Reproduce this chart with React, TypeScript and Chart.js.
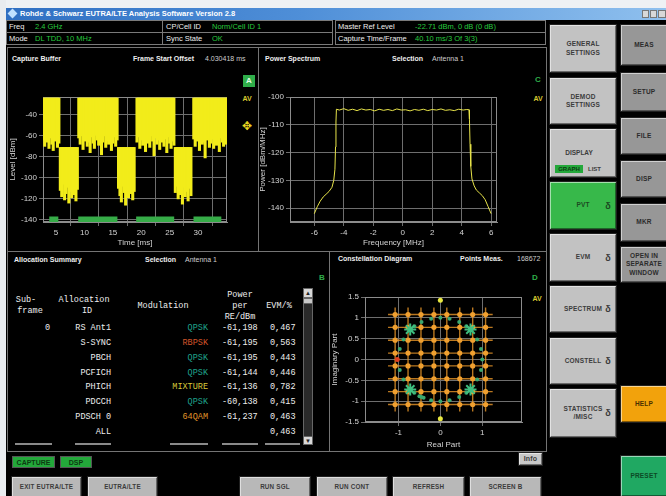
import React, { useEffect, useRef } from 'react';
import { Chart, registerables } from 'chart.js';

Chart.register(...registerables);

const UI = '"Liberation Sans", Arial, sans-serif';
const MONO = '"Liberation Mono", "DejaVu Sans Mono", monospace';

// ---------------- Capture buffer data ----------------
const captureStep = 0.25;
const captureHighStarts = [2.75, 9.0, 19.25, 29.25];
const captureHighTop = -24;
const captureHighFloors = [
  [-64, -70, -58, -66, -72, -62, -68, -74, -65, -60, -71, -67],
  [-62, -68, -60, -73, -65, -58, -70, -66, -76, -61, -67, -72, -59, -64, -69, -63, -78, -66, -60, -71, -65, -68, -62, -74, -67, -61, -70, -64],
  [-66, -61, -72, -64, -69, -58, -75, -63, -67, -71, -60, -65, -79, -62, -68, -64, -73, -59, -66, -70, -63, -76, -61, -67, -72, -65, -69],
  [-63, -70, -65, -59, -74, -62, -68, -66, -81, -64, -60, -71, -67, -63, -72, -58, -69, -65, -75, -62, -66, -70, -64, -68, -61],
];
const captureLowStarts = [5.75, 16.0, 26.0];
const captureLowTop = -71;
const captureLowFloors = [
  [-112, -118, -106, -121, -115, -109, -124, -113, -119, -108, -116, -122, -111],
  [-110, -117, -123, -108, -114, -126, -112, -119, -107, -115, -121, -113],
  [-114, -108, -120, -116, -111, -125, -109, -118, -113, -122, -110, -117],
];
const captureMarkerSpans = [[3.8, 5.4], [8.9, 15.8], [19.1, 25.8], [29.2, 34.1]];
const captureMarkerLevel = -140;

// ---------------- Power spectrum data ----------------
const spectrumFreq = [-6.0, -5.8, -5.6, -5.4, -5.2, -5.0, -4.8, -4.68, -4.6, -4.56, -4.53, -4.5,
  -4.3, -4.0, -3.7, -3.4, -3.1, -2.8, -2.5, -2.2, -1.9, -1.6, -1.3, -1.0, -0.7, -0.4, -0.1,
  0.2, 0.5, 0.8, 1.1, 1.4, 1.7, 2.0, 2.3, 2.6, 2.9, 3.2, 3.5, 3.8, 4.1, 4.35, 4.5,
  4.53, 4.57, 4.62, 4.7, 4.85, 5.0, 5.2, 5.4, 5.6, 5.8, 6.0];
const spectrumPower = [-142, -139.5, -137.5, -136, -135, -134, -132.5, -130, -126, -118, -109, -104.4,
  -104.7, -104.2, -104.8, -104.4, -104.9, -104.3, -104.7, -104.5, -105.0, -104.4, -104.8, -104.5, -104.9, -104.3, -104.7,
  -104.6, -105.0, -104.5, -104.8, -104.4, -104.9, -104.5, -104.7, -104.3, -104.8, -104.6, -104.9, -104.4, -104.7, -104.5, -104.6,
  -108, -117, -125, -129.5, -132, -133.5, -134.5, -135.5, -137, -139.5, -142];

// ---------------- Constellation data ----------------
const qamLevels = [-1.08, -0.772, -0.463, -0.154, 0.154, 0.463, 0.772, 1.08];
const qamLineExtent = 1.25;
const qpskPoints = [[0.72, 0.72], [-0.72, 0.72], [0.72, -0.72], [-0.72, -0.72]];
const phichPoints = [[0, 1.0], [0.22, 0.98], [-0.22, 0.98], [0.45, 0.9], [-0.45, 0.9], [0.62, 0.8], [-0.62, 0.8],
  [0.88, 0.48], [-0.88, 0.48], [0.97, 0.25], [-0.97, 0.25], [1.0, 0], [0.97, -0.25], [-0.97, -0.25],
  [0.88, -0.48], [-0.88, -0.48], [0.62, -0.8], [-0.62, -0.8], [0.45, -0.9], [-0.45, -0.9], [0.22, -0.98],
  [-0.22, -0.98], [0, -1.0], [-0.5, -0.88], [-0.4, -0.92]];
const bpskPoints = [[-1.03, 0]];
const syncPoints = [[0, 1.42], [0, -1.42]];

// ---------------- Allocation summary ----------------
const allocSubframe = ['0', '', '', '', '', '', '', ''];
const allocIds = ['RS Ant1', 'S-SYNC', 'PBCH', 'PCFICH', 'PHICH', 'PDCCH', 'PDSCH 0', 'ALL'];
const allocMods = ['QPSK', 'RBPSK', 'QPSK', 'QPSK', 'MIXTURE', 'QPSK', '64QAM', ''];
const allocPower = ['-61,198', '-61,195', '-61,195', '-61,144', '-61,136', '-60,138', '-61,237', ''];
const allocEvm = ['0,467', '0,563', '0,443', '0,446', '0,782', '0,415', '0,463', '0,463'];
const modColors: Record<string, string> = { QPSK: '#1fa38c', RBPSK: '#d2542a', MIXTURE: '#d8c83a', '64QAM': '#e0962a' };

const TICK = '#d4d4d4';
const GRID = '#6e6e6e';
const tickFont = { size: 8, family: UI };

const framePlugin = {
  id: 'frame',
  beforeDatasetsDraw(chart: any) {
    const { ctx, chartArea: a } = chart;
    ctx.save();
    ctx.strokeStyle = '#8c8c8c';
    ctx.lineWidth = 1;
    ctx.strokeRect(Math.round(a.left) + 0.5, Math.round(a.top) + 0.5, Math.round(a.right - a.left) - 1, Math.round(a.bottom - a.top) - 1);
    ctx.restore();
  },
};

const plainLabel = (v: any) => String(Math.round(v * 100) / 100);

function axis(min: number, max: number, step: number, title: string, fit: (s: any) => void, extra: any = {}) {
  return {
    type: 'linear',
    min, max, offset: false,
    ticks: { stepSize: step, includeBounds: false, color: TICK, font: tickFont, maxRotation: 0, padding: 2, callback: plainLabel, ...(extra.ticks || {}) },
    grid: { color: GRID, tickLength: 4, tickColor: GRID },
    border: { color: '#8c8c8c' },
    title: { display: true, text: title, color: TICK, font: { size: 8, family: UI }, padding: { top: 0, bottom: 0 } },
    afterFit: fit,
  };
}

function baseOptions(padding: any, scales: any) {
  return {
    animation: false,
    responsive: false,
    devicePixelRatio: 1,
    layout: { padding },
    plugins: { legend: { display: false }, tooltip: { enabled: false } },
    scales,
  };
}

function captureConfig(): any {
  const bars: any[] = [];
  captureHighStarts.forEach((s, b) => captureHighFloors[b].forEach((f, i) => bars.push({ x: s + i * captureStep, y: [f, captureHighTop] })));
  captureLowStarts.forEach((s, b) => captureLowFloors[b].forEach((f, i) => bars.push({ x: s + i * captureStep, y: [f, captureLowTop] })));
  const marks: any[] = [];
  captureMarkerSpans.forEach(([a, b]) => {
    marks.push({ x: a, y: captureMarkerLevel }, { x: b, y: captureMarkerLevel }, { x: b + 0.01, y: null });
  });
  return {
    type: 'bar',
    data: {
      datasets: [
        { type: 'line', data: marks, borderColor: '#36ac48', borderWidth: 7, pointRadius: 0, spanGaps: false, borderCapStyle: 'butt', order: 1 },
        { type: 'bar', data: bars, backgroundColor: '#f2ec1a', borderWidth: 0, barThickness: 2.4, order: 2 },
      ],
    },
    options: baseOptions({ top: 9, right: 31, left: 0, bottom: 0 }, {
      x: axis(2.7, 35.1, 5, 'Time [ms]', (s: any) => { s.height = 26; }, { ticks: { callback: (v: any) => (v > 34 ? '' : String(v)) } }),
      y: axis(-142, -23, 20, 'Level [dBm]', (s: any) => { s.width = 35; }),
    }),
    plugins: [framePlugin],
  };
}

function spectrumConfig(): any {
  return {
    type: 'line',
    data: {
      datasets: [{ data: spectrumFreq.map((f, i) => ({ x: f, y: spectrumPower[i] })), borderColor: '#e8e44a', borderWidth: 1, pointRadius: 0, tension: 0 }],
    },
    options: baseOptions({ top: 9, right: 48, left: 0, bottom: 0 }, {
      x: axis(-7.65, 6.4, 2, 'Frequency [MHz]', (s: any) => { s.height = 26; }),
      y: axis(-145, -100, 10, 'Power [dBm/MHz]', (s: any) => { s.width = 32; }),
    }),
    plugins: [framePlugin],
  };
}

function constellationConfig(): any {
  const lines: any[] = [];
  qamLevels.forEach((l) => {
    lines.push({ x: -qamLineExtent, y: l }, { x: qamLineExtent, y: l }, { x: qamLineExtent, y: null });
    lines.push({ x: l, y: -qamLineExtent }, { x: l, y: qamLineExtent }, { x: l, y: null });
  });
  const qam: any[] = [];
  qamLevels.forEach((a) => qamLevels.forEach((b) => qam.push({ x: a, y: b })));
  const pts = (arr: number[][]) => arr.map(([x, y]) => ({ x, y }));
  return {
    type: 'scatter',
    data: {
      datasets: [
        { data: pts(syncPoints), backgroundColor: '#e8e840', borderWidth: 0, pointRadius: 2.5, order: 1 },
        { data: pts(bpskPoints), backgroundColor: '#e04020', borderWidth: 0, pointRadius: 2.5, order: 1 },
        { data: pts(qpskPoints), borderColor: '#3fbf80', backgroundColor: '#3fbf80', pointStyle: 'star', borderWidth: 2, pointRadius: 6, order: 2 },
        { data: pts(phichPoints), backgroundColor: '#3aa870', borderWidth: 0, pointRadius: 2, order: 3 },
        { data: qam, backgroundColor: '#f0a030', borderWidth: 0, pointRadius: 2.6, order: 4 },
        { data: lines, showLine: true, spanGaps: false, borderColor: 'rgba(232,150,40,0.8)', borderWidth: 1.4, pointRadius: 0, order: 5 },
      ],
    },
    options: baseOptions({ top: 12, right: 23, left: 0, bottom: 0 }, {
      x: axis(-1.8, 1.95, 1, 'Real Part', (s: any) => { s.height = 28; }),
      y: axis(-1.5, 1.5, 0.5, 'Imaginary Part', (s: any) => { s.width = 35; }),
    }),
    plugins: [framePlugin],
  };
}

function ChartBox({ x, y, w, h, make }: any) {
  const ref = useRef<HTMLCanvasElement>(null);
  useEffect(() => {
    const chart = new Chart(ref.current as HTMLCanvasElement, make());
    return () => chart.destroy();
  }, []);
  return <canvas ref={ref} width={w} height={h} style={{ position: 'absolute', left: x, top: y, width: w, height: h }} />;
}

function Box({ x, y, w, h, style, children }: any) {
  return <div style={{ position: 'absolute', left: x, top: y, width: w, height: h, boxSizing: 'border-box', ...style }}>{children}</div>;
}

function T({ x, y, size = 8, color = '#eeeeee', bold = false, align = 'left', font = UI, children, style }: any) {
  const tx = align === 'right' ? 'translateX(-100%)' : align === 'center' ? 'translateX(-50%)' : 'none';
  return (
    <div style={{ position: 'absolute', left: x, top: y - size / 2, fontSize: size, lineHeight: `${size}px`, color, fontWeight: bold ? 'bold' : 'normal', fontFamily: font, whiteSpace: 'nowrap', transform: tx, ...style }}>
      {children}
    </div>
  );
}

function Btn({ x, y, w, h, bg, lines, color = '#3c3c3c', size = 6.5, icon = false }: any) {
  return (
    <div style={{ position: 'absolute', left: x, top: y, width: w, height: h, boxSizing: 'border-box', background: bg,
      boxShadow: 'inset 1px 1px 0 rgba(255,255,255,0.55), inset -1px -1px 0 rgba(0,0,0,0.45)', border: '1px solid #202020',
      display: 'flex', flexDirection: 'column', alignItems: 'center', justifyContent: 'center', fontFamily: UI, fontWeight: 'bold',
      fontSize: size, color, lineHeight: 1.3, textAlign: 'center', letterSpacing: 0.2 }}>
      {lines.map((l: string, i: number) => <div key={i}>{l}</div>)}
      {icon && <div style={{ position: 'absolute', right: 5, top: h / 2 - 6, fontSize: 9, color }}>δ</div>}
    </div>
  );
}

export default function App() {
  const col1 = '#c2c2c2';
  const col2 = '#979797';
  const green = '#27c93f';
  const rowY = [328, 343.6, 358.3, 373, 387.7, 402, 416.8, 432];
  return (
    <div style={{ position: 'fixed', left: 0, top: 0, width: 666, height: 496, background: '#000', overflow: 'hidden', fontFamily: UI }}>
      {/* window chrome */}
      <Box x={0} y={0} w={666} h={8} style={{ background: '#eef1f4' }} />
      <Box x={0} y={0} w={6} h={496} style={{ background: '#e9ecef' }} />
      <Box x={6} y={8} w={660} h={12} style={{ background: 'linear-gradient(to right, #2f6fc2, #4f8fd8 45%, #8fc0ee)' }} />
      <Box x={9} y={10} w={7} h={7} style={{ background: '#bfe0ff', transform: 'rotate(45deg)' }} />
      <T x={20} y={14} size={7.5} bold color="#ffffff">Rohde &amp; Schwarz EUTRA/LTE Analysis Software Version 2.8</T>
      <Box x={642} y={10} w={7} h={8} style={{ background: '#d8d8d8', border: '1px solid #777' }} />
      <Box x={650} y={10} w={7} h={8} style={{ background: '#d8d8d8', border: '1px solid #777' }} />
      <Box x={658} y={10} w={8} h={8} style={{ background: '#d8d8d8', border: '1px solid #777' }} />

      {/* info rows */}
      {[[6, 157], [162, 171], [335, 211]].map(([x, w], i) => (
        <React.Fragment key={i}>
          <Box x={x} y={20} w={w} h={13} style={{ border: '1px solid #7a7a7a' }} />
          <Box x={x} y={32} w={w} h={13} style={{ border: '1px solid #7a7a7a' }} />
        </React.Fragment>
      ))}
      <T x={9} y={26.5} size={7.5}>Freq</T>
      <T x={35} y={26.5} size={7.5} color={green}>2.4 GHz</T>
      <T x={9} y={38.5} size={7.5}>Mode</T>
      <T x={35} y={38.5} size={7.5} color={green}>DL TDD, 10 MHz</T>
      <T x={166} y={26.5} size={7.5}>CP/Cell ID</T>
      <T x={212} y={26.5} size={7.5} color={green}>Norm/Cell ID 1</T>
      <T x={166} y={38.5} size={7.5}>Sync State</T>
      <T x={212} y={38.5} size={7.5} color={green}>OK</T>
      <T x={338} y={26.5} size={7.5}>Master Ref Level</T>
      <T x={415} y={26.5} size={7.5} color={green}>-22.71 dBm, 0 dB (0 dB)</T>
      <T x={338} y={38.5} size={7.5}>Capture Time/Frame</T>
      <T x={415} y={38.5} size={7.5} color={green}>40.10 ms/3 Of 3(3)</T>

      {/* panel frames */}
      <Box x={7} y={47} w={540} h={405} style={{ border: '1px solid #747474' }} />
      <Box x={7} y={251} w={540} h={1} style={{ background: '#747474' }} />
      <Box x={258} y={47} w={1} h={205} style={{ background: '#747474' }} />
      <Box x={329} y={251} w={1} h={201} style={{ background: '#747474' }} />

      {/* capture buffer */}
      <T x={12} y={58} size={7} bold>Capture Buffer</T>
      <T x={133} y={58} size={7} bold>Frame Start Offset</T>
      <T x={205} y={58} size={7} color="#cfcfcf">4.030418 ms</T>
      <Box x={243} y={75} w={12} h={12} style={{ background: '#2fae4a' }} />
      <T x={249} y={81} size={8} bold color="#e8ffe8" align="center">A</T>
      <T x={247} y={98} size={7} bold color="#d8c830" align="center">AV</T>
      <T x={247} y={126} size={12} color="#e8d820" align="center">✥</T>
      <ChartBox x={8} y={88} w={250} h={160} make={captureConfig} />

      {/* power spectrum */}
      <T x={265} y={58} size={7} bold>Power Spectrum</T>
      <T x={392} y={58} size={7} bold>Selection</T>
      <T x={432} y={58} size={7} color="#cfcfcf">Antenna 1</T>
      <T x={538} y={80} size={8} bold color="#2fae4a" align="center">C</T>
      <T x={538} y={98} size={7} bold color="#d8c830" align="center">AV</T>
      <ChartBox x={258} y={88} w={287} h={160} make={spectrumConfig} />

      {/* allocation summary */}
      <T x={14} y={259} size={7} bold>Allocation Summary</T>
      <T x={145} y={259} size={7} bold>Selection</T>
      <T x={185} y={259} size={7} color="#cfcfcf">Antenna 1</T>
      <T x={322} y={278} size={8} bold color="#2fae4a" align="center">B</T>
      <T x={26} y={300} size={8.5} font={MONO} align="center">Sub-</T>
      <T x={30} y={311} size={8.5} font={MONO} align="center">frame</T>
      <T x={84} y={300} size={8.5} font={MONO} align="center">Allocation</T>
      <T x={87} y={311} size={8.5} font={MONO} align="center">ID</T>
      <T x={163} y={306} size={8.5} font={MONO} align="center">Modulation</T>
      <T x={240} y={295} size={8.5} font={MONO} align="center">Power</T>
      <T x={240} y={306} size={8.5} font={MONO} align="center">per</T>
      <T x={240} y={317} size={8.5} font={MONO} align="center">RE/dBm</T>
      <T x={279} y={306} size={8.5} font={MONO} align="center">EVM/%</T>
      {allocIds.map((id, i) => (
        <React.Fragment key={id}>
          <T x={50} y={rowY[i]} size={8.5} font={MONO} align="right">{allocSubframe[i]}</T>
          <T x={111} y={rowY[i]} size={8.5} font={MONO} align="right">{id}</T>
          <T x={208} y={rowY[i]} size={8.5} font={MONO} align="right" color={modColors[allocMods[i]] || '#eee'}>{allocMods[i]}</T>
          <T x={222} y={rowY[i]} size={8.5} font={MONO}>{allocPower[i]}</T>
          <T x={270} y={rowY[i]} size={8.5} font={MONO}>{allocEvm[i]}</T>
        </React.Fragment>
      ))}
      {[[15, 52], [75, 111], [170, 208], [222, 258], [265, 300]].map(([a, b]) => (
        <Box key={a} x={a} y={443} w={b - a} h={2} style={{ background: '#8a8a8a' }} />
      ))}
      <Box x={303} y={288} w={10} h={157} style={{ background: '#2a2a2a', border: '1px solid #666' }} />
      <Box x={303} y={288} w={10} h={10} style={{ background: '#d8d8d8', border: '1px solid #666' }} />
      <Box x={303} y={298} w={10} h={6} style={{ background: '#c8c8c8', border: '1px solid #666' }} />
      <Box x={303} y={436} w={10} h={9} style={{ background: '#d8d8d8', border: '1px solid #666' }} />
      <T x={308} y={293} size={6} color="#222" align="center">▲</T>
      <T x={308} y={440.5} size={6} color="#222" align="center">▼</T>

      {/* constellation */}
      <T x={338} y={258} size={7} bold>Constellation Diagram</T>
      <T x={460} y={258} size={7} bold>Points Meas.</T>
      <T x={517} y={258} size={7} color="#cfcfcf">168672</T>
      <T x={535} y={278} size={8} bold color="#2fae4a" align="center">D</T>
      <T x={537} y={298} size={7} bold color="#d8c830" align="center">AV</T>
      <ChartBox x={330} y={285} w={215} h={165} make={constellationConfig} />

      {/* right soft keys column 1 */}
      <Btn x={549} y={24} w={68} h={49} bg={col1} lines={['GENERAL', 'SETTINGS']} />
      <Btn x={549} y={77} w={68} h={48} bg={col1} lines={['DEMOD', 'SETTINGS']} />
      <div style={{ position: 'absolute', left: 549, top: 128, width: 68, height: 50, boxSizing: 'border-box', background: col1,
        boxShadow: 'inset 1px 1px 0 rgba(255,255,255,0.55), inset -1px -1px 0 rgba(0,0,0,0.45)', border: '1px solid #202020' }}>
        <T x={29} y={24} size={6.5} bold color="#3c3c3c" align="center">DISPLAY</T>
        <Box x={5} y={36} w={28} h={8} style={{ background: '#23a83a' }} />
        <T x={19} y={40} size={6} bold color="#0c3a12" align="center">GRAPH</T>
        <T x={38} y={40} size={6} bold color="#3c3c3c">LIST</T>
      </div>
      <Btn x={549} y={181} w={68} h={49} bg="#37b84a" lines={['PVT']} color="#1c4a22" icon />
      <Btn x={549} y={233} w={68} h={49} bg={col1} lines={['EVM']} icon />
      <Btn x={549} y={285} w={68} h={48} bg={col1} lines={['SPECTRUM']} icon />
      <Btn x={549} y={337} w={68} h={48} bg={col1} lines={['CONSTELL']} icon />
      <Btn x={549} y={388} w={68} h={50} bg={col1} lines={['STATISTICS', '/MISC']} icon />

      {/* right soft keys column 2 */}
      <Btn x={620} y={24} w={48} h={42} bg={col2} lines={['MEAS']} color="#2c2c2c" />
      <Btn x={620} y={72} w={48} h={40} bg={col2} lines={['SETUP']} color="#2c2c2c" />
      <Btn x={620} y={117} w={48} h={38} bg={col2} lines={['FILE']} color="#2c2c2c" />
      <Btn x={620} y={160} w={48} h={38} bg={col2} lines={['DISP']} color="#2c2c2c" />
      <Btn x={620} y={203} w={48} h={39} bg={col2} lines={['MKR']} color="#2c2c2c" />
      <Btn x={620} y={246} w={48} h={37} bg={col2} lines={['OPEN IN', 'SEPARATE', 'WINDOW']} color="#2c2c2c" />
      <Btn x={620} y={385} w={48} h={38} bg="#f2a20c" lines={['HELP']} color="#4a3000" />
      <Btn x={620} y={455} w={48} h={42} bg="#20a862" lines={['PRESET']} color="#0c4a26" />

      {/* status + bottom keys */}
      <Box x={12} y={456} w={43} h={12} style={{ background: '#23a83a', border: '1px solid #555' }} />
      <T x={33.5} y={462} size={7} bold color="#0c3a12" align="center">CAPTURE</T>
      <Box x={60} y={456} w={32} h={12} style={{ background: '#23a83a', border: '1px solid #555' }} />
      <T x={76} y={462} size={7} bold color="#0c3a12" align="center">DSP</T>
      <Btn x={518} y={452} w={25} h={14} bg="#c8c8c8" lines={['Info']} size={7} />
      <Btn x={11} y={476} w={71} h={22} bg="#b8b8b8" lines={['EXIT EUTRA/LTE']} size={6.3} />
      <Btn x={87} y={476} w={71} h={22} bg="#b8b8b8" lines={['EUTRA/LTE']} size={6.3} />
      <Btn x={239} y={476} w={72} h={22} bg="#b8b8b8" lines={['RUN SGL']} size={6.3} />
      <Btn x={316} y={476} w={72} h={22} bg="#b8b8b8" lines={['RUN CONT']} size={6.3} />
      <Btn x={392} y={476} w={73} h={22} bg="#b8b8b8" lines={['REFRESH']} size={6.3} />
      <Btn x={469} y={476} w={73} h={22} bg="#b8b8b8" lines={['SCREEN B']} size={6.3} />
    </div>
  );
}
